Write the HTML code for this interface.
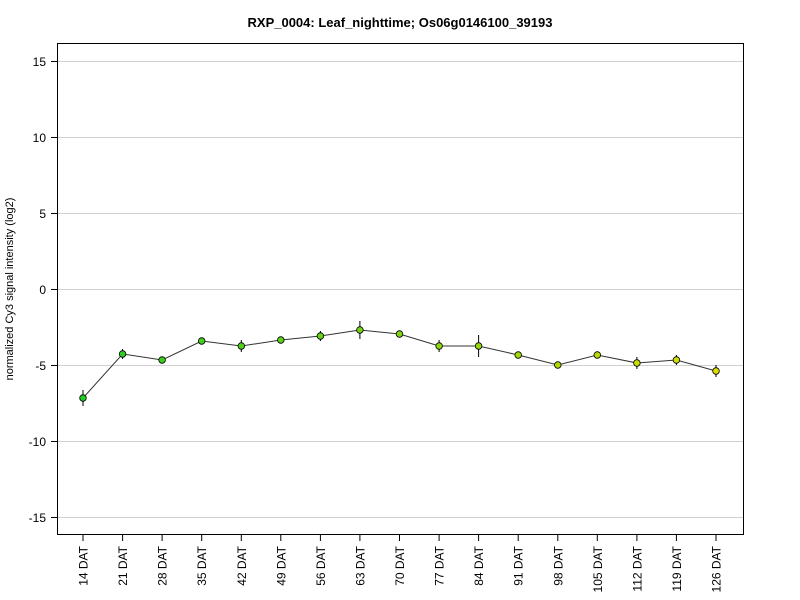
<!DOCTYPE html>
<html><head><style>body{margin:0;background:#fff}svg{display:block}</style></head><body>
<svg width="800" height="600" xmlns="http://www.w3.org/2000/svg" font-family="Liberation Sans, sans-serif">
<text x="400" y="27" text-anchor="middle" font-size="13" font-weight="bold">RXP_0004: Leaf_nighttime; Os06g0146100_39193</text>
<g stroke="#d0d0d0" stroke-width="1">
<line x1="57" x2="743" y1="61.5" y2="61.5"/><line x1="57" x2="743" y1="137.5" y2="137.5"/>
<line x1="57" x2="743" y1="213.5" y2="213.5"/><line x1="57" x2="743" y1="289.5" y2="289.5"/>
<line x1="57" x2="743" y1="365.5" y2="365.5"/><line x1="57" x2="743" y1="441.5" y2="441.5"/>
<line x1="57" x2="743" y1="517.5" y2="517.5"/>
</g>
<rect x="57.5" y="43.5" width="686" height="491" fill="none" stroke="#000"/>
<g stroke="#000"><line x1="51" x2="57" y1="61.5" y2="61.5"/><line x1="51" x2="57" y1="137.5" y2="137.5"/><line x1="51" x2="57" y1="213.5" y2="213.5"/><line x1="51" x2="57" y1="289.5" y2="289.5"/><line x1="51" x2="57" y1="365.5" y2="365.5"/><line x1="51" x2="57" y1="441.5" y2="441.5"/><line x1="51" x2="57" y1="517.5" y2="517.5"/></g>
<g font-size="12" text-anchor="end">
<text x="46" y="66">15</text><text x="46" y="142">10</text><text x="46" y="218">5</text><text x="46" y="294">0</text><text x="46" y="370">-5</text><text x="46" y="446">-10</text><text x="46" y="522">-15</text></g>
<text transform="translate(13,289) rotate(-90)" text-anchor="middle" font-size="11">normalized Cy3 signal intensity (log2)</text>
<polyline points="83,398 122.6,354 162.1,360 201.7,341 241.3,346 280.8,340 320.4,336 359.9,330 399.5,334 439.1,346 478.6,346 518.2,355 557.8,365 597.3,355 636.9,363 676.4,360 716,371" fill="none" stroke="#333" stroke-width="1"/>
<g stroke="#000">
<line x1="83" x2="83" y1="390" y2="406"/>
<line x1="122.6" x2="122.6" y1="349" y2="359"/>
<line x1="162.1" x2="162.1" y1="357" y2="363"/>
<line x1="201.7" x2="201.7" y1="338" y2="344"/>
<line x1="241.3" x2="241.3" y1="340" y2="352"/>
<line x1="280.8" x2="280.8" y1="337" y2="343"/>
<line x1="320.4" x2="320.4" y1="331" y2="341"/>
<line x1="359.9" x2="359.9" y1="321" y2="339"/>
<line x1="399.5" x2="399.5" y1="331" y2="337"/>
<line x1="439.1" x2="439.1" y1="340" y2="352"/>
<line x1="478.6" x2="478.6" y1="335" y2="357"/>
<line x1="518.2" x2="518.2" y1="352" y2="358"/>
<line x1="557.8" x2="557.8" y1="362" y2="368"/>
<line x1="597.3" x2="597.3" y1="352" y2="358"/>
<line x1="636.9" x2="636.9" y1="357" y2="369"/>
<line x1="676.4" x2="676.4" y1="355" y2="365"/>
<line x1="716" x2="716" y1="365" y2="377"/>
</g>
<g stroke="#000" stroke-width="0.8">
<circle cx="83" cy="398" r="3.3" fill="rgb(34,204,34)"/>
<circle cx="122.6" cy="354" r="3.3" fill="rgb(46,205,32)"/>
<circle cx="162.1" cy="360" r="3.3" fill="rgb(57,206,30)"/>
<circle cx="201.7" cy="341" r="3.3" fill="rgb(69,207,28)"/>
<circle cx="241.3" cy="346" r="3.3" fill="rgb(81,208,26)"/>
<circle cx="280.8" cy="340" r="3.3" fill="rgb(92,209,23)"/>
<circle cx="320.4" cy="336" r="3.3" fill="rgb(104,210,21)"/>
<circle cx="359.9" cy="330" r="3.3" fill="rgb(116,211,19)"/>
<circle cx="399.5" cy="334" r="3.3" fill="rgb(128,213,17)"/>
<circle cx="439.1" cy="346" r="3.3" fill="rgb(139,214,15)"/>
<circle cx="478.6" cy="346" r="3.3" fill="rgb(151,215,13)"/>
<circle cx="518.2" cy="355" r="3.3" fill="rgb(163,216,11)"/>
<circle cx="557.8" cy="365" r="3.3" fill="rgb(174,217,9)"/>
<circle cx="597.3" cy="355" r="3.3" fill="rgb(186,218,6)"/>
<circle cx="636.9" cy="363" r="3.3" fill="rgb(198,219,4)"/>
<circle cx="676.4" cy="360" r="3.3" fill="rgb(209,220,2)"/>
<circle cx="716" cy="371" r="3.3" fill="rgb(221,221,0)"/>
</g>
<g stroke="#000">
<line x1="83" x2="83" y1="534" y2="541"/><line x1="122.6" x2="122.6" y1="534" y2="541"/><line x1="162.1" x2="162.1" y1="534" y2="541"/><line x1="201.7" x2="201.7" y1="534" y2="541"/><line x1="241.3" x2="241.3" y1="534" y2="541"/><line x1="280.8" x2="280.8" y1="534" y2="541"/><line x1="320.4" x2="320.4" y1="534" y2="541"/><line x1="359.9" x2="359.9" y1="534" y2="541"/><line x1="399.5" x2="399.5" y1="534" y2="541"/><line x1="439.1" x2="439.1" y1="534" y2="541"/><line x1="478.6" x2="478.6" y1="534" y2="541"/><line x1="518.2" x2="518.2" y1="534" y2="541"/><line x1="557.8" x2="557.8" y1="534" y2="541"/><line x1="597.3" x2="597.3" y1="534" y2="541"/><line x1="636.9" x2="636.9" y1="534" y2="541"/><line x1="676.4" x2="676.4" y1="534" y2="541"/><line x1="716" x2="716" y1="534" y2="541"/>
</g>
<g font-size="12" text-anchor="end">
<text transform="translate(87.5,546) rotate(-90)">14 DAT</text>
<text transform="translate(127.1,546) rotate(-90)">21 DAT</text>
<text transform="translate(166.6,546) rotate(-90)">28 DAT</text>
<text transform="translate(206.2,546) rotate(-90)">35 DAT</text>
<text transform="translate(245.8,546) rotate(-90)">42 DAT</text>
<text transform="translate(285.3,546) rotate(-90)">49 DAT</text>
<text transform="translate(324.9,546) rotate(-90)">56 DAT</text>
<text transform="translate(364.4,546) rotate(-90)">63 DAT</text>
<text transform="translate(404,546) rotate(-90)">70 DAT</text>
<text transform="translate(443.6,546) rotate(-90)">77 DAT</text>
<text transform="translate(483.1,546) rotate(-90)">84 DAT</text>
<text transform="translate(522.7,546) rotate(-90)">91 DAT</text>
<text transform="translate(562.3,546) rotate(-90)">98 DAT</text>
<text transform="translate(601.8,546) rotate(-90)">105 DAT</text>
<text transform="translate(641.4,546) rotate(-90)">112 DAT</text>
<text transform="translate(680.9,546) rotate(-90)">119 DAT</text>
<text transform="translate(720.5,546) rotate(-90)">126 DAT</text>
</g>
</svg>
</body></html>
